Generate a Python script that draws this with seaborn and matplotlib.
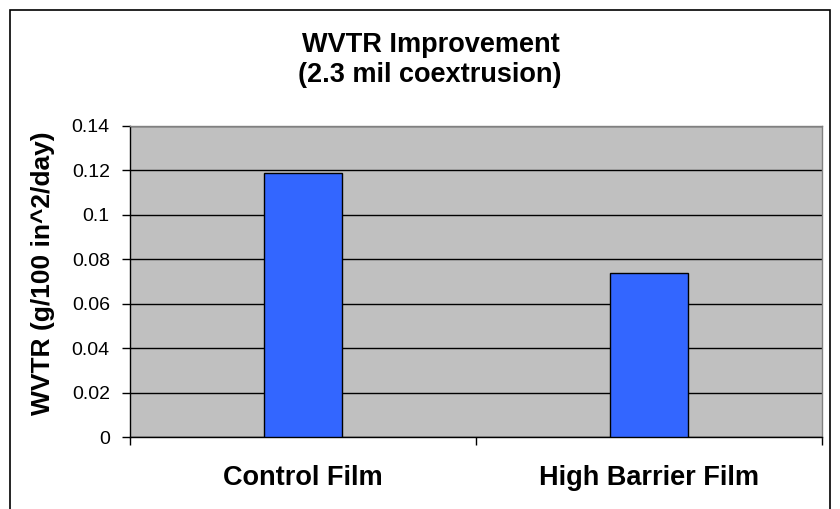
import matplotlib
matplotlib.use("Agg")
import matplotlib.pyplot as plt
import seaborn as sns
import pandas as pd
from matplotlib.patches import Rectangle

categories = ["Control Film", "High Barrier Film"]
wvtr = [0.119, 0.074]
y_ticks = [0, 0.02, 0.04, 0.06, 0.08, 0.1, 0.12, 0.14]
y_tick_labels = ["0", "0.02", "0.04", "0.06", "0.08", "0.1", "0.12", "0.14"]

sns.set_theme(style="white")
plt.rcParams["font.family"] = ["Liberation Sans", "DejaVu Sans"]

df = pd.DataFrame({"film": categories, "wvtr": wvtr})

W, H = 840, 509
fig = plt.figure(figsize=(W / 100, H / 100), dpi=100)
fig.patch.set_facecolor("white")

# Outer chart border
fig.add_artist(Rectangle((10 / W, -0.02), 820 / W, 1 - 10 / H + 0.02,
                         transform=fig.transFigure, fill=False,
                         edgecolor="black", linewidth=1.2))

ax = fig.add_axes([130 / W, 1 - 437 / H, 692 / W, 311 / H])
ax.set_facecolor("#C0C0C0")

sns.barplot(data=df, x="film", y="wvtr", color="#3366FF", width=0.225,
            edgecolor="black", linewidth=1.0, saturation=1, ax=ax, zorder=3)

ax.set_xlim(-0.5, 1.5)
ax.set_ylim(0, 0.14)
ax.set_yticks(y_ticks)
ax.set_yticklabels(y_tick_labels, fontsize=14, color="black")
ax.yaxis.grid(True, color="black", linewidth=1.0, zorder=1)
ax.set_axisbelow(True)

# Category labels centered, tick marks at category boundaries
ax.set_xticks([0, 1])
ax.set_xticklabels(categories, fontsize=19.5, fontweight="bold", color="black")
ax.set_xticks([-0.5, 0.5, 1.5], minor=True)
ax.tick_params(axis="x", which="major", length=0, pad=20)
ax.tick_params(axis="x", which="minor", length=6, width=1, color="black",
               direction="out", bottom=True)
ax.tick_params(axis="y", which="major", length=6, width=1, color="black",
               direction="out", left=True, pad=8.5)

ax.set_xlabel("")
ax.set_ylabel("WVTR (g/100 in^2/day)", fontsize=19, fontweight="bold",
              color="black")
ax.yaxis.set_label_coords(-0.108, 0.526)

for side in ["left", "bottom"]:
    ax.spines[side].set_color("black")
    ax.spines[side].set_linewidth(1.0)
for side in ["top", "right"]:
    ax.spines[side].set_color("#808080")
    ax.spines[side].set_linewidth(1.0)

fig.text(431 / W, 1 - 52 / H, "WVTR Improvement", ha="center", va="baseline",
         fontsize=19.5, fontweight="bold", color="black")
fig.text(430 / W, 1 - 82 / H, "(2.3 mil coextrusion)", ha="center",
         va="baseline", fontsize=19.5, fontweight="bold", color="black")

fig.savefig("out.png", dpi=100)
